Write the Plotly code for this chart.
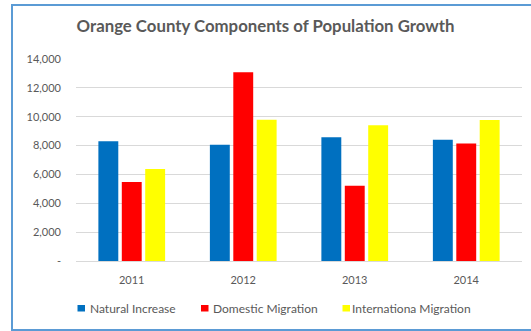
import plotly.graph_objects as go

years = ["2011", "2012", "2013", "2014"]
natural_increase = [8300, 8050, 8580, 8400]
domestic_migration = [5480, 13080, 5220, 8150]
international_migration = [6380, 9790, 9400, 9780]
series_names = ["Natural Increase", "Domestic Migration", "Internationa Migration"]
series_colors = ["#0070C0", "#FF0000", "#FFFF00"]
y_tickvals = [0, 2000, 4000, 6000, 8000, 10000, 12000, 14000]
y_ticktext = ["-", "2,000", "4,000", "6,000", "8,000", "10,000", "12,000", "14,000"]

FONT = "Lato"
TXT = "#595959"

W, H = 531, 331
L, R, T, B = 76, 9, 59, 70
pw, ph = W - L - R, H - T - B

def px_x(x):
    return (x - L) / pw

def px_y(y):
    return (H - B - y) / ph

fig = go.Figure()
for name, vals, col in zip(series_names, [natural_increase, domestic_migration, international_migration], series_colors):
    fig.add_trace(go.Bar(x=years, y=vals, name=name, marker=dict(color=col, line=dict(width=0)),
                         showlegend=False))

# legend drawn as small squares + labels (layout positions in pixels)
legend_square_px = [77.5, 201, 342.5]
legend_text_px = [87.5, 211, 349.5]
legend_y_px = 308.5
shapes = [dict(type="rect", xref="paper", yref="paper",
               x0=px_x(12), x1=px_x(540), y0=px_y(330), y1=px_y(5),
               line=dict(color="#5B9BD5", width=2), fillcolor="rgba(0,0,0,0)", layer="below")]
annotations = []
for name, col, sx, tx in zip(series_names, series_colors, legend_square_px, legend_text_px):
    shapes.append(dict(type="rect", xref="paper", yref="paper",
                       x0=px_x(sx), x1=px_x(sx + 7.5), y0=px_y(legend_y_px + 3), y1=px_y(legend_y_px - 3.5),
                       line=dict(width=0), fillcolor=col))
    annotations.append(dict(text=name, xref="paper", yref="paper", x=px_x(tx), y=px_y(legend_y_px),
                            xanchor="left", yanchor="middle", showarrow=False,
                            font=dict(family=FONT, size=12, color=TXT)))

fig.update_layout(
    width=W, height=H,
    margin=dict(l=L, r=R, t=T, b=B),
    paper_bgcolor="white", plot_bgcolor="white",
    barmode="group", bargap=0.37, bargroupgap=0.15,
    font=dict(family=FONT, color=TXT, size=11),
    showlegend=False,
    title=dict(text="<b>Orange County Components of Population Growth</b>",
               x=0.5, xref="container", xanchor="center",
               y=1 - 26 / H, yref="container", yanchor="middle",
               font=dict(family=FONT, size=16.8, color=TXT)),
    xaxis=dict(showgrid=False, showline=False, ticks="", ticklabelstandoff=11,
               tickfont=dict(family=FONT, size=11, color=TXT)),
    yaxis=dict(range=[0, 14000], tickvals=y_tickvals, ticktext=y_ticktext,
               showgrid=True, gridcolor="#D9D9D9", gridwidth=1,
               zeroline=True, zerolinecolor="#D9D9D9", zerolinewidth=1,
               showline=False, ticks="", ticklabelstandoff=14,
               tickfont=dict(family=FONT, size=11, color=TXT)),
    shapes=shapes,
    annotations=annotations,
)

fig.write_html("out.html")
